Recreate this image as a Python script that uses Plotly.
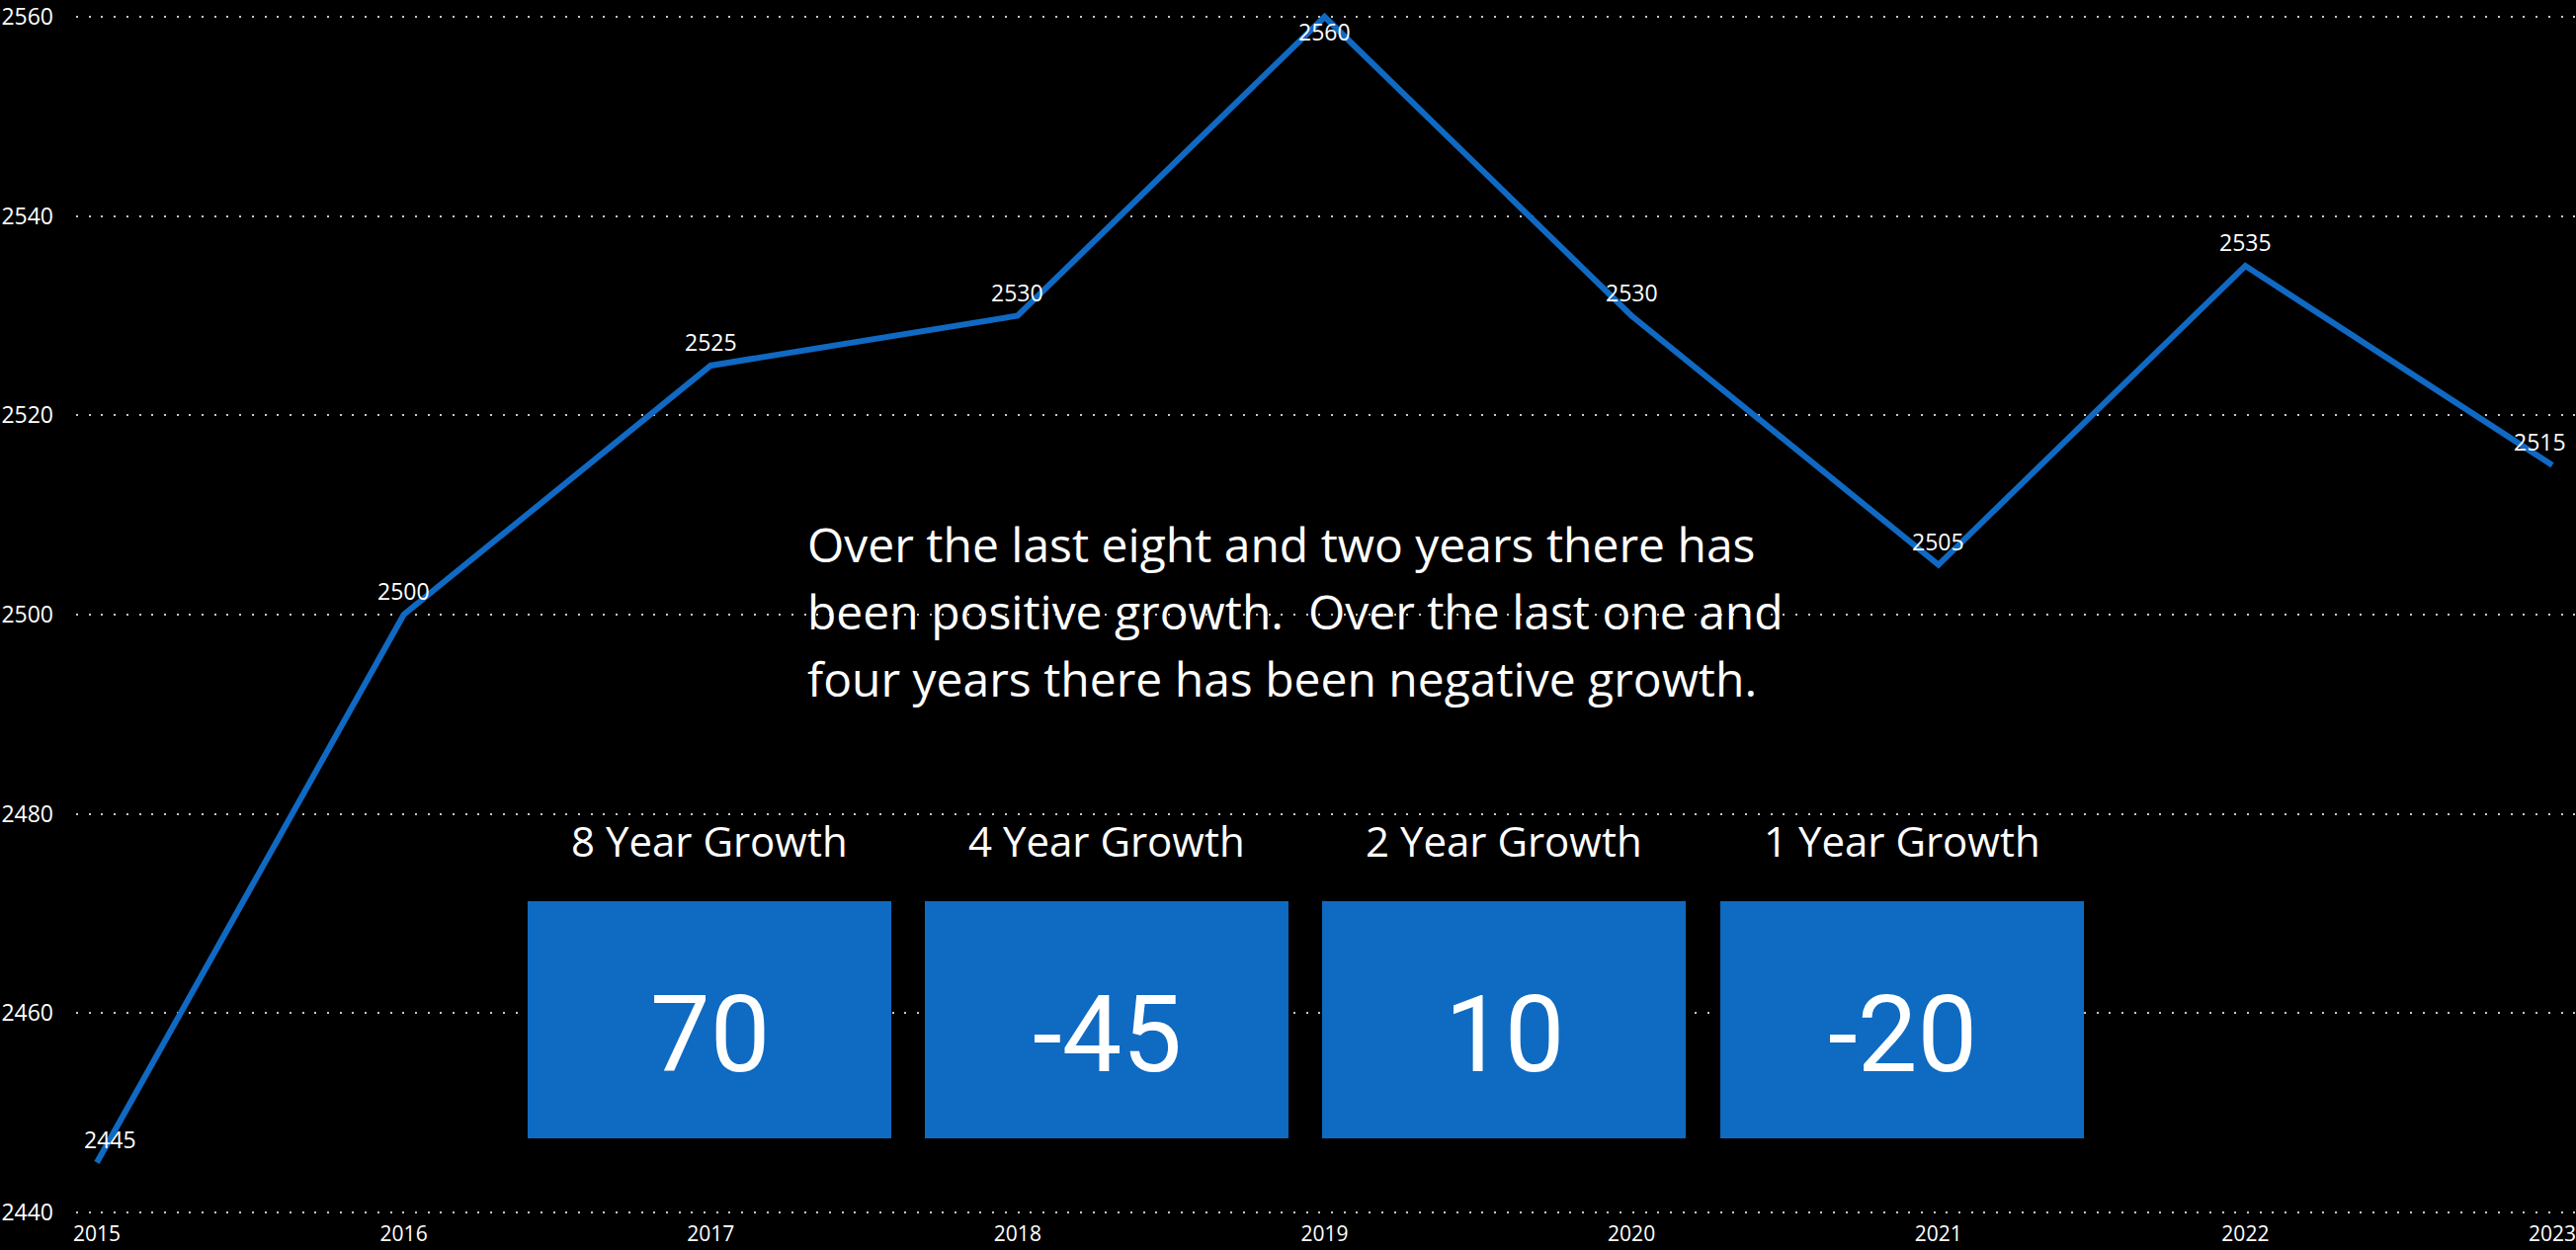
import plotly.graph_objects as go

years = [2015, 2016, 2017, 2018, 2019, 2020, 2021, 2022, 2023]
values = [2445, 2500, 2525, 2530, 2560, 2530, 2505, 2535, 2515]
y_ticks = [2440, 2460, 2480, 2500, 2520, 2540, 2560]

growth_labels = ["8 Year Growth", "4 Year Growth", "2 Year Growth", "1 Year Growth"]
growth_values = [70, -45, 10, -20]

summary_lines = [
    "Over the last eight and two years there has",
    "been positive growth.\u00a0 Over the last one and",
    "four years there has been negative growth.",
]

W, H = 2607, 1265
ML, MR, MT, MB = 77, 0, 0, 35
PW, PH = W - ML - MR, H - MT - MB

BLUE = "#1069C3"
FONT = "Segoe UI, Open Sans, sans-serif"

def px_x(p):
    return (p - ML) / PW

def px_y(p):
    return 1 - (p - MT) / PH

fig = go.Figure()
fig.add_trace(go.Scatter(
    x=years, y=values, mode="lines",
    line=dict(color=BLUE, width=6),
    hoverinfo="skip", showlegend=False,
))

annotations = []
n = len(years)
for i, (x, v) in enumerate(zip(years, values)):
    xs, ys = 0, 24
    if i == 0:
        xs = 13
    elif i == n - 1:
        xs = -13
    if v == max(values):
        ys = -15
    annotations.append(dict(
        x=x, y=v, xref="x", yref="y", text=str(v), showarrow=False,
        xanchor="center", yanchor="middle", xshift=xs, yshift=ys,
        font=dict(family=FONT, size=23, color="#ffffff"),
    ))

line_y = [550, 618, 686]
for txt, yy in zip(summary_lines, line_y):
    annotations.append(dict(
        x=px_x(815), y=px_y(yy), xref="paper", yref="paper", text=txt,
        showarrow=False, xanchor="left", yanchor="middle", align="left",
        font=dict(family=FONT, size=48, color="#ffffff"),
    ))

box_left = [534, 936, 1338, 1741]
box_w = 368
box_top, box_bot = 912, 1152
shapes = []
for bl, lab, val in zip(box_left, growth_labels, growth_values):
    shapes.append(dict(
        type="rect", xref="paper", yref="paper",
        x0=px_x(bl), x1=px_x(bl + box_w), y0=px_y(box_bot), y1=px_y(box_top),
        fillcolor="#0F6AC1", line=dict(width=0), layer="above",
    ))
    cx = bl + box_w / 2
    annotations.append(dict(
        x=px_x(cx), y=px_y(850), xref="paper", yref="paper", text=lab,
        showarrow=False, xanchor="center", yanchor="middle",
        font=dict(family=FONT, size=42, color="#ffffff"),
    ))
    annotations.append(dict(
        x=px_x(cx), y=px_y(1047), xref="paper", yref="paper", text=str(val),
        showarrow=False, xanchor="center", yanchor="middle",
        font=dict(family="Roboto, sans-serif", size=108, color="#ffffff"),
    ))

ppu = 1210 / 120
ppy = (2583 - 98) / 8

fig.update_layout(
    width=W, height=H,
    margin=dict(l=ML, r=MR, t=MT, b=MB, autoexpand=False),
    paper_bgcolor="#000000", plot_bgcolor="#000000",
    showlegend=False,
    xaxis=dict(
        range=[2015 - (98 - ML) / ppy, 2023 + (W - MR - 2583) / ppy],
        tickvals=years, ticktext=[str(y) for y in years],
        showgrid=False, zeroline=False, showline=False, ticks="",
        tickfont=dict(family=FONT, size=21, color="#ffffff"),
        ticklabelstandoff=4, ticklabeloverflow="allow",
        fixedrange=True, automargin=False,
    ),
    yaxis=dict(
        range=[2440 - (H - MB - 1227) / ppu, 2560 + (17 - MT) / ppu],
        tickvals=y_ticks, ticktext=[str(v) for v in y_ticks],
        showgrid=True, gridcolor="#c8c8c8", gridwidth=2, griddash="2px,10.7px",
        zeroline=False, showline=False, ticks="",
        ticklabelstandoff=22,
        tickfont=dict(family=FONT, size=23, color="#ffffff"),
        fixedrange=True, automargin=False,
    ),
    shapes=shapes,
    annotations=annotations,
)

fig.write_html(
    "out.html",
    config={"displayModeBar": False},
    post_script="document.body.style.margin='0';document.body.style.overflow='hidden';",
)
